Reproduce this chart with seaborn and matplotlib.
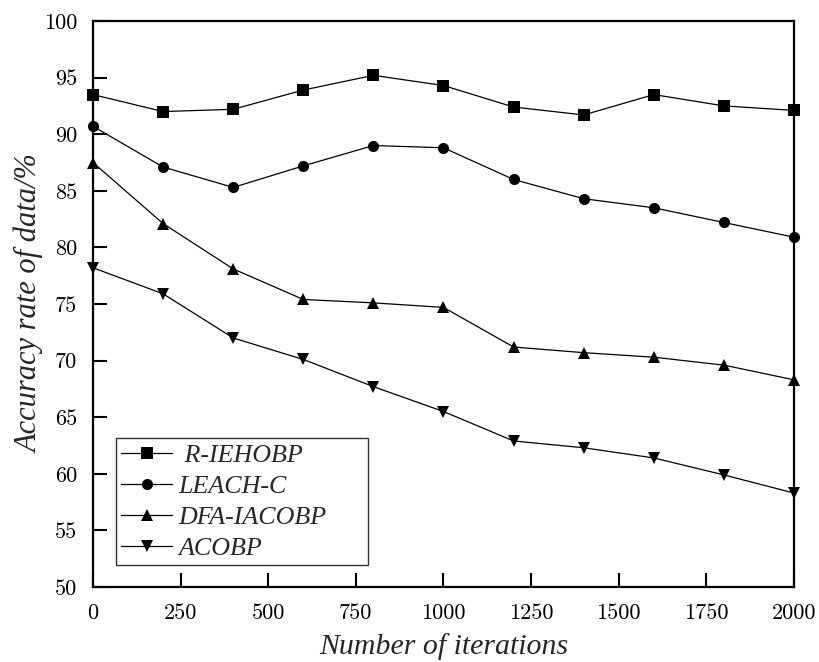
import matplotlib
matplotlib.use("Agg")
import matplotlib.pyplot as plt
import seaborn as sns
import pandas as pd

iterations = [0, 200, 400, 600, 800, 1000, 1200, 1400, 1600, 1800, 2000]
r_iehobp = [93.5, 92.0, 92.2, 93.9, 95.2, 94.3, 92.4, 91.7, 93.5, 92.5, 92.1]
leach_c = [90.7, 87.1, 85.3, 87.2, 89.0, 88.8, 86.0, 84.3, 83.5, 82.2, 80.9]
dfa_iacobp = [87.5, 82.1, 78.1, 75.4, 75.1, 74.7, 71.2, 70.7, 70.3, 69.6, 68.3]
acobp = [78.2, 75.9, 72.0, 70.1, 67.7, 65.5, 62.9, 62.3, 61.4, 59.9, 58.3]

series_names = [" R-IEHOBP", "LEACH-C", "DFA-IACOBP", "ACOBP"]
series_values = [r_iehobp, leach_c, dfa_iacobp, acobp]
series_markers = ["s", "o", "^", "v"]

x_ticks = [0, 250, 500, 750, 1000, 1250, 1500, 1750, 2000]
y_ticks = [50, 55, 60, 65, 70, 75, 80, 85, 90, 95, 100]

rows = []
for name, vals in zip(series_names, series_values):
    for it, v in zip(iterations, vals):
        rows.append({"iter": it, "acc": v, "method": name})
df = pd.DataFrame(rows)

sns.set_style("ticks")
SERIF = ["Liberation Serif", "DejaVu Serif"]
plt.rcParams["font.family"] = SERIF

fig = plt.figure(figsize=(8.2, 6.62), dpi=100)
ax = fig.add_axes([93 / 820, 75 / 662, 701 / 820, 566 / 662])

sns.lineplot(
    data=df, x="iter", y="acc", hue="method", style="method",
    hue_order=series_names, style_order=series_names,
    palette=["black"] * 4,
    markers=dict(zip(series_names, series_markers)),
    dashes=False, linewidth=0.9, markersize=8, markeredgewidth=0,
    ax=ax, legend=False, clip_on=False, zorder=3,
)

ax.set_xlim(0, 2000)
ax.set_ylim(50, 100)
ax.set_xticks(x_ticks, labels=[str(v) for v in x_ticks], fontfamily="cmr10", fontsize=16)
ax.set_yticks(y_ticks, labels=[str(v) for v in y_ticks], fontfamily="cmr10", fontsize=16)
ax.tick_params(direction="in", length=10, width=1.5, colors="black",
               top=False, right=False)
ax.tick_params(axis="x", pad=12)
ax.tick_params(axis="y", pad=11.5)
for s in ax.spines.values():
    s.set_visible(True)
    s.set_linewidth(1.6)
    s.set_color("black")

ax.set_xlabel("Number of iterations", fontsize=21.5, style="italic", family=SERIF, labelpad=7)
ax.set_ylabel("Accuracy rate of data/%", fontsize=22, style="italic", family=SERIF, labelpad=-1)

handles = []
for name, m in zip(series_names, series_markers):
    h, = ax.plot([], [], color="black", marker=m, markersize=8, linewidth=0.9,
                 markeredgewidth=0, label=name)
    handles.append(h)
leg = ax.legend(handles=handles, loc="lower left",
                bbox_to_anchor=(0.033, 0.039, 0.3595, 0.1), mode="expand",
                borderaxespad=0, prop={"family": SERIF, "style": "italic", "size": 18.7},
                handlelength=1.95, handletextpad=0.23, labelspacing=0.3,
                frameon=True, fancybox=False, edgecolor="black", borderpad=0.2)
leg.get_frame().set_linewidth(1.0)

fig.savefig("out.png", dpi=100)
